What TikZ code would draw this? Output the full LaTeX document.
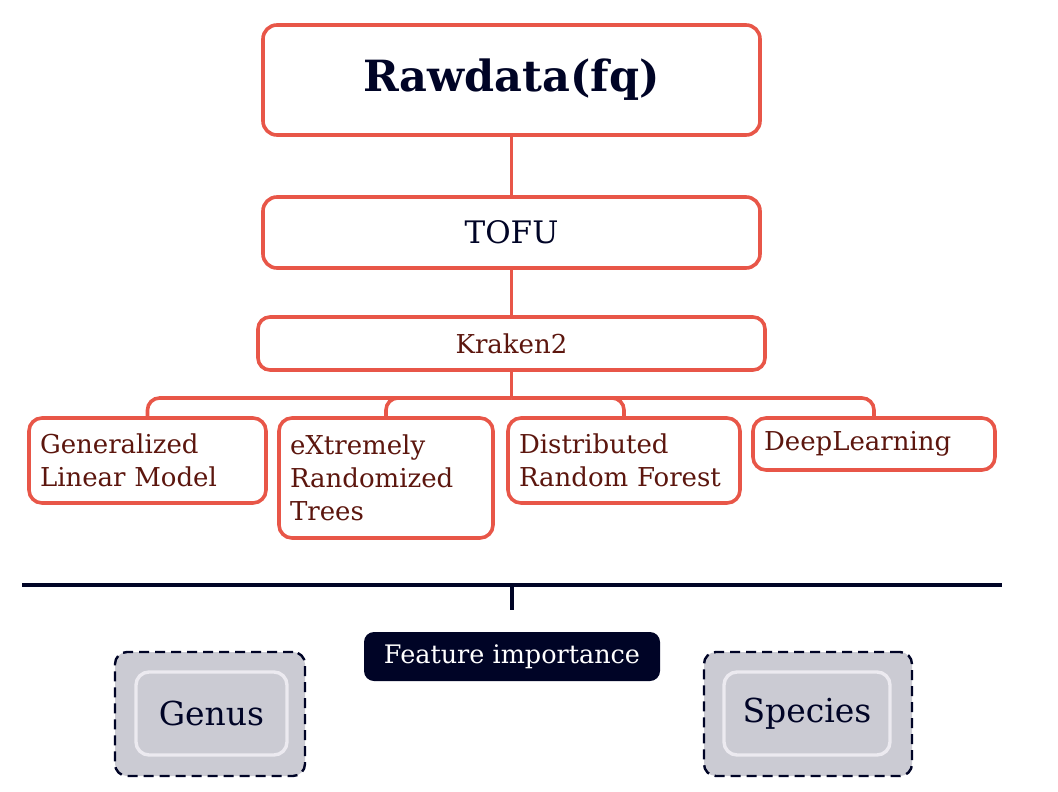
\documentclass[tikz,border=0pt]{standalone}
\usepackage{fontspec}
\setmainfont{DejaVu Serif}
\usetikzlibrary{positioning}

\definecolor{boxred}{RGB}{232,86,72}
\definecolor{darkred}{RGB}{92,22,14}
\definecolor{navy}{RGB}{0,4,38}
\definecolor{panelgray}{RGB}{203,203,211}
\definecolor{innerline}{RGB}{236,234,240}

\tikzset{
  redbox/.style={draw=boxred, line width=3.6pt, rounded corners=14pt, fill=white, inner sep=0pt},
  modelbox/.style={draw=boxred, line width=3.6pt, rounded corners=13pt, fill=white, inner xsep=11pt,
    text=darkred, align=left, font=\fontsize{26}{33}\selectfont},
  link/.style={draw=boxred, line width=3.6pt},
  outerbox/.style={draw=navy, line width=2.4pt, dash pattern=on 10pt off 6pt, rounded corners=12pt, fill=panelgray},
  innerbox/.style={draw=innerline, line width=3.4pt, rounded corners=13pt, text=navy, font=\fontsize{33}{38}\selectfont}
}

\begin{document}
\begin{tikzpicture}[x=1pt, y=-1pt]
    \useasboundingbox (0,0) rectangle (1058,792);
    % Pipeline
    \node[redbox, minimum width=497pt, minimum height=110pt, text=navy, font=\bfseries\fontsize{43}{50}\selectfont] (raw) at (511.5,80) {Rawdata(fq)};
    \node[redbox, minimum width=497pt, minimum height=71pt, text=navy, font=\fontsize{31}{36}\selectfont] (tofu) at (511.5,232.5) {TOFU};
    \node[redbox, minimum width=507pt, minimum height=53pt, rounded corners=12pt, text=darkred, font=\fontsize{26}{30}\selectfont] (kraken) at (511.5,343.5) {Kraken2};
    \draw[link] (raw) -- (tofu);
    \draw[link] (tofu) -- (kraken);
    % Models
    \node[modelbox, text width=215pt, minimum height=85pt] (glm) at (147.5,460.5) {Generalized\\Linear Model};
    \node[modelbox, text width=192pt, minimum height=120pt] (xrt) at (386,478) {eXtremely\\Randomized\\Trees};
    \node[modelbox, text width=210pt, minimum height=85pt] (drf) at (624,460.5) {Distributed\\Random Forest};
    \node[modelbox, text width=220pt, minimum height=52pt] (dl) at (874,444) {DeepLearning};
    \coordinate (bus) at (511.5,398);
    \draw[link] (kraken) -- (bus);
    \draw[link, rounded corners=12pt] (bus) -| (glm.north);
    \draw[link, rounded corners=12pt] (bus) -| (xrt.north);
    \draw[link, rounded corners=12pt] (bus) -| (drf.north);
    \draw[link, rounded corners=12pt] (bus) -| (dl.north);
    % Separator
    \coordinate (sepL) at (22,585); \coordinate (sepR) at (1002,585);
    \coordinate (sepM) at (511.5,585); \coordinate (tick) at (511.5,610);
    \draw[navy, line width=4pt] (sepL) -- (sepR);
    \draw[navy, line width=4pt] (sepM) -- (tick);
    % Feature importance
    \node[fill=navy, rounded corners=10pt, minimum width=296pt, minimum height=49pt, text=white, font=\fontsize{25.5}{30}\selectfont] (feat) at (512,656.5) {Feature importance};
    \node[outerbox, minimum width=190pt, minimum height=124pt] (genusbg) at (210,714) {};
    \node[innerbox, minimum width=151pt, minimum height=83pt] (genus) at (211.5,713.5) {Genus};
    \node[outerbox, minimum width=208pt, minimum height=124pt] (speciesbg) at (808,714) {};
    \node[innerbox, minimum width=166pt, minimum height=83pt] (species) at (807,713.5) {Species};
\end{tikzpicture}
\end{document}
